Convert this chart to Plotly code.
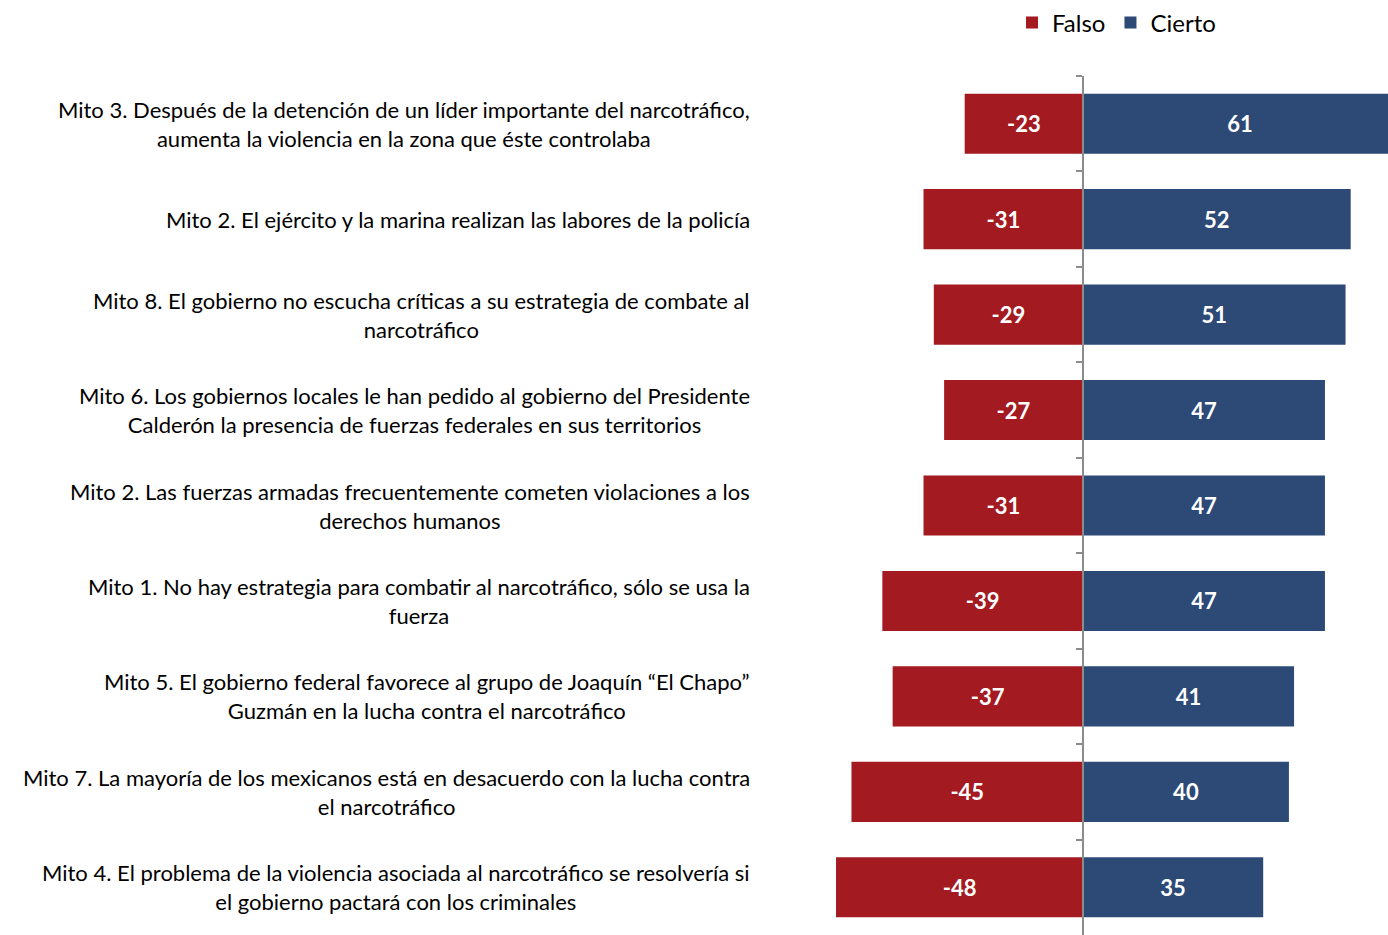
import plotly.graph_objects as go

labels = [
    "Mito 3. Después de la detención de un líder importante del narcotráfico,<br>aumenta la violencia en la zona que éste controlaba",
    "Mito 2. El ejército y la marina realizan las labores de la policía",
    "Mito 8. El gobierno no escucha críticas a su estrategia de combate al<br>narcotráfico",
    "Mito 6. Los gobiernos locales le han pedido al gobierno del Presidente<br>Calderón la presencia de fuerzas federales en sus territorios",
    "Mito 2. Las fuerzas armadas frecuentemente cometen violaciones a los<br>derechos humanos",
    "Mito 1. No hay estrategia para combatir al narcotráfico, sólo se usa la<br>fuerza",
    "Mito 5. El gobierno federal favorece al grupo de Joaquín “El Chapo”<br>Guzmán en la lucha contra el narcotráfico",
    "Mito 7. La mayoría de los mexicanos está en desacuerdo con la lucha contra<br>el narcotráfico",
    "Mito 4. El problema de la violencia asociada al narcotráfico se resolvería si<br>el gobierno pactará con los criminales",
]
falso = [-23, -31, -29, -27, -31, -39, -37, -45, -48]
cierto = [61, 52, 51, 47, 47, 47, 41, 40, 35]

RED = "#A31A21"
BLUE = "#2D4A77"
FONT = "Lato"

W, H = 1388, 935
ML, MR, MT, MB = 800, 0, 76, 0
xmin, xmax = -55.0, 59.25
plot_w = W - ML - MR

fig = go.Figure()
fig.add_trace(go.Bar(
    y=labels, x=falso, name="Falso", orientation="h",
    marker=dict(color=RED, line=dict(width=0)),
    text=[str(v) for v in falso], textposition="inside", insidetextanchor="middle",
    textangle=0, textfont=dict(color="white", size=22, family=FONT, weight="bold"),
))
fig.add_trace(go.Bar(
    y=labels, x=cierto, name="Cierto", orientation="h",
    marker=dict(color=BLUE, line=dict(width=0)),
    text=[str(v) for v in cierto], textposition="inside", insidetextanchor="middle",
    textangle=0, textfont=dict(color="white", size=22, family=FONT, weight="bold"),
))

zero_pos = (0 - xmin) / (xmax - xmin)
label_x = -(ML - 752) / plot_w

annotations = []
for lab in labels:
    annotations.append(dict(
        x=label_x, xref="paper", y=lab, yref="y", text=lab, showarrow=False,
        xanchor="right", yanchor="middle", align="center",
        font=dict(size=22, family=FONT, color="black"),
    ))

fig.update_layout(
    width=W, height=H,
    margin=dict(l=ML, r=MR, t=MT, b=MB, pad=0),
    paper_bgcolor="white", plot_bgcolor="white",
    barmode="relative", bargap=0.37,
    font=dict(family=FONT, color="black"),
    showlegend=True,
    legend=dict(orientation="h", x=1012 / W, xref="container", xanchor="left",
                y=1 - 23 / H, yref="container", yanchor="middle",
                font=dict(size=24, family=FONT), itemwidth=30, tracegroupgap=0,
                bgcolor="rgba(0,0,0,0)"),
    xaxis=dict(range=[xmin, xmax], showgrid=False, zeroline=False, showline=False,
               showticklabels=False, ticks=""),
    yaxis=dict(type="category", range=[len(labels) - 0.5, -0.5], anchor="free",
               position=zero_pos, showline=True, linecolor="#8C8C8C", linewidth=1.5,
               ticks="outside", ticklen=6, tickcolor="#8C8C8C", tickwidth=1.5,
               tickson="boundaries", showticklabels=False, showgrid=False,
               zeroline=False),
    annotations=annotations,
)

fig.write_html("out.html", config={"displayModeBar": False},
               post_script="document.body.style.margin='0px';")
